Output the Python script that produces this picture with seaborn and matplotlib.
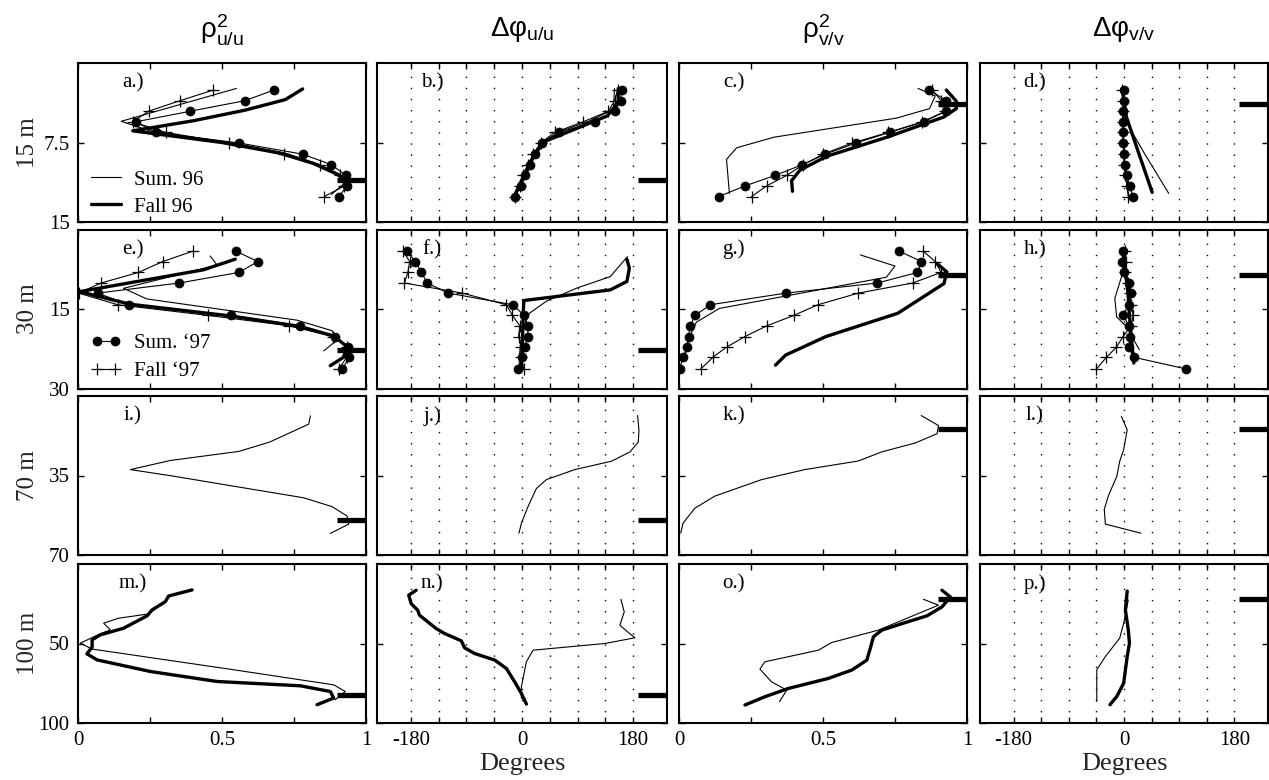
import matplotlib
matplotlib.use("Agg")
import matplotlib.pyplot as plt
import seaborn as sns

# ------------------------------------------------------------------ data
DEPTH_MAX = [15, 30, 70, 100]
DEPTH_MID = [7.5, 15, 35, 50]
DEPTH_TICKLABELS = [["7.5", "15"], ["15", "30"], ["35", "70"], ["50", "100"]]
ROW_LABELS = ["15 m", "30 m", "70 m", "100 m"]
COL_TITLES = [r"$\mathregular{ρ^{2}_{u/u}}$", r"$\mathregular{Δφ_{u/u}}$",
              r"$\mathregular{ρ^{2}_{v/v}}$", r"$\mathregular{Δφ_{v/v}}$"]
PANEL_LETTERS = ["a.)", "b.)", "c.)", "d.)", "e.)", "f.)", "g.)", "h.)",
                 "i.)", "j.)", "k.)", "l.)", "m.)", "n.)", "o.)", "p.)"]
U_BAR_DEPTH = [11.0, 22.7, 54.4, 82.6]
V_BAR_DEPTH = [3.9, 8.6, 14.6, 22.2]
COH_TICKS = [0, 0.25, 0.5, 0.75, 1]
COH_TICKLABELS = ["0", "", "0.5", "", "1"]
PHASE_TICKS = [-180, -135, -90, -45, 0, 45, 90, 135, 180]
PHASE_TICKLABELS = ["-180", "", "", "", "0", "", "", "", "180"]
PHASE_LIM = 235
LEGEND_96 = ["Sum. 96", "Fall 96"]
LEGEND_97 = ["Sum. \u201897", "Fall \u201897"]

# depth bins of the 1997 records
D15_97 = [2.55, 3.55, 4.55, 5.55, 6.55, 7.55, 8.6, 9.6, 10.6, 11.6, 12.6]
D30_97 = [4.05, 6.05, 8.1, 10.1, 12.0, 14.2, 16.2, 18.15, 20.2, 22.2, 24.1, 26.3]

# panel a (rho^2 u/u, 15 m)
A_S97 = [0.68, 0.58, 0.39, 0.20, 0.27, 0.56, 0.78, 0.88, 0.93, 0.935, 0.905]
A_F97 = [0.47, 0.355, 0.245, 0.19, 0.305, 0.525, 0.715, 0.84, 0.91, 0.925, 0.855]
A_S96_X = [0.55, 0.15, 0.26, 0.53, 0.72, 0.83, 0.91, 0.935, 0.88]
A_S96_D = [2.4, 5.5, 6.5, 7.5, 8.5, 9.5, 10.5, 11.1, 12.4]
A_F96_X = [0.78, 0.72, 0.58, 0.40, 0.19, 0.50, 0.70, 0.82, 0.90, 0.93]
A_F96_D = [2.45, 3.45, 4.45, 5.45, 6.4, 7.5, 8.5, 9.5, 10.5, 11.1]
# panel b (phase u/u, 15 m)
B_S97 = [161.5, 159.8, 151, 118.6, 59.6, 33.1, 20.6, 13.6, 4.4, -1, -11.4]
B_F97 = [155, 150, 140, 99, 53, 30, 18, 10, 2, -4, -12]
B_S96_X = [150, 148, 108, 60, 32, 20, 12, 4, -3, -10]
B_S96_D = [2.4, 4.4, 5.5, 6.5, 7.5, 8.5, 9.5, 10.5, 11.5, 12.5]
B_F96_X = [156, 156, 138, 37, 22, 12, 4, -4, -12]
B_F96_D = [2.4, 3.7, 5.0, 7.4, 8.5, 9.5, 10.5, 11.5, 12.5]
# panel c (rho^2 v/v, 15 m)
C_S97 = [0.869, 0.928, 0.928, 0.849, 0.731, 0.614, 0.508, 0.428, 0.334, 0.229, 0.138]
C_F97 = [0.88, 0.91, 0.925, 0.845, 0.727, 0.601, 0.50, 0.431, 0.374, 0.304, 0.252]
C_S96_X = [0.83, 0.89, 0.87, 0.755, 0.33, 0.20, 0.165, 0.175]
C_S96_D = [2.4, 3.1, 4.3, 5.2, 7.0, 8.0, 9.1, 12.3]
C_F96_X = [0.928, 0.963, 0.963, 0.919, 0.722, 0.513, 0.42, 0.391, 0.394]
C_F96_D = [2.55, 3.6, 4.3, 5.1, 7.0, 8.8, 10.1, 11.1, 12.1]
# panel d (phase v/v, 15 m)
D_S97 = [0, 0, -1.6, -1.6, -1.6, -1.6, 0, 1.1, 4.9, 9.2, 14.6]
D_F97 = [-3, -2, -2, -2, -2, -1, 0, 0, 2, 5, 7]
D_S96_X = [-3, 2, 33, 73]
D_S96_D = [2.4, 5.4, 8.5, 12.3]
D_F96_X = [-3, 4, 24, 46]
D_F96_D = [2.45, 5.1, 8.5, 12.2]
# panel e (rho^2 u/u, 30 m)
E_S97 = [0.547, 0.624, 0.559, 0.351, 0.068, 0.176, 0.532, 0.770, 0.894, 0.938, 0.942, 0.918]
E_F97 = [0.401, 0.294, 0.210, 0.080, 0.002, 0.138, 0.45, 0.731, 0.886, 0.934, 0.934, 0.905]
E_S96_X = [0.459, 0.483, 0.158, 0.239, 0.76, 0.882, 0.899, 0.853]
E_S96_D = [5.0, 6.7, 11.1, 13.1, 17.1, 19.1, 20.9, 22.9]
E_F96_X = [0.546, 0.436, 0.008, 0.054, 0.181, 0.529, 0.772, 0.888, 0.934, 0.922, 0.876]
E_F96_D = [5.6, 7.6, 11.7, 12.4, 14.1, 16.3, 18.3, 20.1, 22.1, 24.1, 25.7]
# panel f (phase u/u, 30 m)
F_S97 = [-186.8, -172.7, -163, -153.7, -119.6, -14.6, 3.2, 9.7, 9.3, 4.4, 0.6, -5.8]
F_F97 = [-193, -182, -185, -190.5, -96.8, -25.3, -15.6, -3.7, -5.4, -1, -1, 2.8]
F_S96_X = [171, 143, 90, 40, 12, 2, -3, -5]
F_S96_D = [5.1, 8.9, 11.0, 13.5, 15.8, 18.5, 22, 26]
F_F96_X = [170, 174, 170, 143, 3, 2, 1, -1]
F_F96_D = [5.6, 7.3, 9.8, 11.4, 13.4, 15.8, 20, 25.9]
# panel g (rho^2 v/v, 30 m)
G_S97 = [0.763, 0.842, 0.828, 0.689, 0.371, 0.109, 0.056, 0.039, 0.033, 0.028, 0.014, 0.002]
G_F97 = [0.847, 0.89, 0.91, 0.811, 0.623, 0.482, 0.399, 0.306, 0.229, 0.165, 0.118, 0.076]
G_S96_X = [0.63, 0.75, 0.72, 0.14, 0.06, 0.035, 0.02]
G_S96_D = [4.8, 6.9, 9.0, 14.9, 17.5, 20.5, 24.0]
G_F96_X = [0.895, 0.93, 0.92, 0.76, 0.51, 0.37, 0.335]
G_F96_D = [6.4, 8.0, 10.2, 15.8, 20.2, 23.7, 25.6]
# panel h (phase v/v, 30 m)
H_S97 = [-1.6, -3.2, 0, 8.1, 12, 8.1, -1.6, 8.1, 9.3, 8.1, 15.8, 101]
H_F97 = [1, 3, 2, 6, 10, 12, 14.6, 12, -1.6, -12.3, -28.6, -44.9]
H_S96_X = [0, -4, -15, -12, 4, 25]
H_S96_D = [5.4, 8.9, 13, 16.5, 18.3, 22.7]
H_F96_X = [-1, 3, 6.5, 10, 16]
H_F96_D = [5.1, 8.5, 12, 18, 25.2]
# panel i (rho^2 u/u, 70 m)
I_S96_X = [0.807, 0.801, 0.665, 0.558, 0.32, 0.182, 0.332, 0.54, 0.783, 0.882, 0.934, 0.94, 0.876]
I_S96_D = [8.75, 12.4, 20.3, 24.4, 28.4, 32.4, 35.3, 39.7, 44.8, 48.7, 52.8, 56.4, 60.5]
# panel j (phase u/u, 70 m)
J_S96_X = [187.4, 189.6, 188.4, 175, 145.2, 85.6, 39.6, 23.4, 9.7, -1, -4.9]
J_S96_D = [8.6, 15.2, 20.3, 24.6, 28.7, 32.4, 36.8, 40.7, 48.7, 56, 60.4]
# panel k (rho^2 v/v, 70 m)
K_S96_X = [0.841, 0.901, 0.896, 0.82, 0.704, 0.623, 0.437, 0.287, 0.124, 0.055, 0.014, 0.006]
K_S96_D = [8.6, 13, 16.6, 20.7, 24.6, 28.6, 32.4, 36.8, 44.1, 49.4, 56, 60.4]
# panel l (phase v/v, 70 m)
L_S96_X = [-4.2, 5.2, -0.5, -7, -11.7, -25.7, -32.2, -30.4, 27.6]
L_S96_D = [9, 14.9, 23.6, 28.7, 35.3, 44.1, 49.9, 56.4, 60.4]
# panel m (rho^2 u/u, 100 m)
M_F96_X = [0.396, 0.315, 0.303, 0.257, 0.24, 0.158, 0.077, 0.049, 0.049, 0.031, 0.066,
           0.251, 0.483, 0.772, 0.876, 0.888, 0.83]
M_F96_D = [16.3, 20.1, 23.7, 28.9, 32.6, 40.4, 44.6, 47.7, 52.3, 56.5, 60.3,
           67.6, 73.9, 76.6, 80.2, 84.3, 88.5]
M_S96_X = [0.303, 0.245, 0.141, 0.089, 0.112, 0.077, 0.008, 0.049, 0.54, 0.888, 0.928, 0.893]
M_S96_D = [23.7, 31.4, 34.1, 37.2, 41.4, 43.9, 49.8, 53.5, 66.5, 76, 80.2, 85.4]
# panel n (phase u/u, 100 m)
N_F96_X = [-171.5, -183.6, -179.7, -168.9, -166.2, -139.1, -125.6, -98.4, -93.1, -76.8,
           -44.3, -25.3, -11.9, -1, 7.1]
N_F96_D = [16.5, 19.6, 24.9, 29.1, 32.2, 40.6, 43.7, 48.3, 52.7, 56.3,
           60.4, 65.7, 74.1, 81.4, 88.1]
N_S96_X = [160.3, 165.7, 158.7, 171.2, 183.1, 134.3, 17.9, 7.1, -1, -1]
N_S96_D = [22.2, 30.1, 38.5, 42.7, 46.4, 50, 54.2, 61.5, 77.2, 84.5]
# panel o (rho^2 v/v, 100 m)
O_F96_X = [0.913, 0.942, 0.913, 0.861, 0.774, 0.704, 0.675, 0.664, 0.652, 0.6,
           0.518, 0.379, 0.298, 0.229]
O_F96_D = [16.5, 20.7, 27, 32.6, 37.5, 41.6, 45.8, 53.2, 60.5, 66.7,
           72, 78.3, 83.5, 88.7]
O_S96_X = [0.849, 0.901, 0.692, 0.53, 0.484, 0.298, 0.281, 0.321, 0.374, 0.349]
O_S96_D = [22.2, 25.9, 41.6, 49.4, 54.2, 61.5, 66.1, 74.1, 79.3, 86.6]
# panel p (phase v/v, 100 m)
P_F96_X = [5.2, 2.3, 7, 8.9, 5.2, -0.5, -11.7, -22.9]
P_F96_D = [17, 28.9, 41.4, 49.8, 58.2, 74.9, 83.3, 88.5]
P_S96_X = [7, -0.5, -7, -30.4, -44.4, -44.4]
P_S96_D = [22.6, 37.2, 46.6, 58.2, 66.5, 86.4]

# ------------------------------------------------------------------ styles
INK = "#000000"
STYLE = {
    "s96": dict(lw=0.8),
    "f96": dict(lw=2.4),
    "s97": dict(lw=0.8, marker="o", markersize=6.5, markerfacecolor=INK,
                markeredgecolor=INK, markeredgewidth=0.5),
    "f97": dict(lw=0.8, marker="+", markersize=8.5, markeredgecolor=INK,
                markeredgewidth=0.9),
}

PANELS = [
    [("s96", A_S96_X, A_S96_D), ("f96", A_F96_X, A_F96_D), ("s97", A_S97, D15_97), ("f97", A_F97, D15_97)],
    [("s96", B_S96_X, B_S96_D), ("f96", B_F96_X, B_F96_D), ("s97", B_S97, D15_97), ("f97", B_F97, D15_97)],
    [("s96", C_S96_X, C_S96_D), ("f96", C_F96_X, C_F96_D), ("s97", C_S97, D15_97), ("f97", C_F97, D15_97)],
    [("s96", D_S96_X, D_S96_D), ("f96", D_F96_X, D_F96_D), ("s97", D_S97, D15_97), ("f97", D_F97, D15_97)],
    [("s96", E_S96_X, E_S96_D), ("f96", E_F96_X, E_F96_D), ("s97", E_S97, D30_97), ("f97", E_F97, D30_97)],
    [("s96", F_S96_X, F_S96_D), ("f96", F_F96_X, F_F96_D), ("s97", F_S97, D30_97), ("f97", F_F97, D30_97)],
    [("s96", G_S96_X, G_S96_D), ("f96", G_F96_X, G_F96_D), ("s97", G_S97, D30_97), ("f97", G_F97, D30_97)],
    [("s96", H_S96_X, H_S96_D), ("f96", H_F96_X, H_F96_D), ("s97", H_S97, D30_97), ("f97", H_F97, D30_97)],
    [("s96", I_S96_X, I_S96_D)],
    [("s96", J_S96_X, J_S96_D)],
    [("s96", K_S96_X, K_S96_D)],
    [("s96", L_S96_X, L_S96_D)],
    [("s96", M_S96_X, M_S96_D), ("f96", M_F96_X, M_F96_D)],
    [("s96", N_S96_X, N_S96_D), ("f96", N_F96_X, N_F96_D)],
    [("s96", O_S96_X, O_S96_D), ("f96", O_F96_X, O_F96_D)],
    [("s96", P_S96_X, P_S96_D), ("f96", P_F96_X, P_F96_D)],
]

# ------------------------------------------------------------------ figure
sns.set_theme(style="white", color_codes=False)
plt.rcParams["font.family"] = ["Liberation Serif", "DejaVu Serif"]
plt.rcParams["axes.edgecolor"] = INK
plt.rcParams["axes.linewidth"] = 1.5
plt.rcParams["text.color"] = INK
plt.rcParams["xtick.color"] = INK
plt.rcParams["ytick.color"] = INK

W, H = 1269, 780
fig = plt.figure(figsize=(W / 100, H / 100), dpi=100)

COL_LEFT = [78, 377, 679, 980]
COL_WIDTH = [288, 290, 288, 288]
ROW_TOP = [63, 229.5, 396, 564]
ROW_H = 159

TICK_FS = 15

for r in range(4):
    for c in range(4):
        idx = r * 4 + c
        ax = fig.add_axes([COL_LEFT[c] / W, 1 - (ROW_TOP[r] + ROW_H) / H,
                           COL_WIDTH[c] / W, ROW_H / H])
        is_phase = c in (1, 3)
        for key, xs, ds in PANELS[idx]:
            sns.lineplot(x=xs, y=ds, sort=False, estimator=None, color=INK,
                         ax=ax, legend=False, **STYLE[key])
        # reference-depth bar on the right edge
        bar_d = U_BAR_DEPTH[r] if c < 2 else V_BAR_DEPTH[r]
        if is_phase:
            xlo, xhi = -PHASE_LIM, PHASE_LIM
        else:
            xlo, xhi = 0.0, 1.0
        ax.plot([xlo + 0.9 * (xhi - xlo), xhi], [bar_d, bar_d], color=INK,
                lw=3.8, solid_capstyle="butt", clip_on=False, zorder=5)
        ax.set_xlim(xlo, xhi)
        ax.set_ylim(DEPTH_MAX[r], 0)
        ax.set_yticks([DEPTH_MID[r], DEPTH_MAX[r]])
        if c == 0:
            ax.set_yticklabels(DEPTH_TICKLABELS[r], fontsize=TICK_FS)
            ax.set_ylabel(ROW_LABELS[r], fontsize=18)
            ax.yaxis.set_label_coords(-0.135, 0.5)
        else:
            ax.set_yticklabels([])
            ax.set_ylabel("")
        if is_phase:
            ax.set_xticks(PHASE_TICKS)
            ax.xaxis.grid(True, color=INK, lw=1.0, linestyle=(0, (1, 7)))
            ax.yaxis.grid(False)
            labels = PHASE_TICKLABELS
        else:
            ax.set_xticks(COH_TICKS)
            ax.grid(False)
            labels = COH_TICKLABELS
        if r == 3:
            ax.set_xticklabels(labels, fontsize=TICK_FS)
            if is_phase:
                ax.set_xlabel("Degrees", fontsize=19)
                ax.xaxis.set_label_coords(0.5, -0.19)
            else:
                ax.set_xlabel("")
        else:
            ax.set_xticklabels([])
            ax.set_xlabel("")
        ax.tick_params(direction="in", length=4, width=1, top=True, right=True,
                       bottom=True, left=True, colors=INK, pad=6)
        for s in ax.spines.values():
            s.set_color(INK)
            s.set_linewidth(1.5)
        ax.set_axisbelow(True)
        ax.text(0.19, 0.875, PANEL_LETTERS[idx], transform=ax.transAxes,
                ha="center", va="center", fontsize=15, color=INK)
        if idx == 0:
            h = ax.lines[:2]
            ax.legend(h, LEGEND_96, loc="center left", bbox_to_anchor=(0.045, 0.18),
                      frameon=False, fontsize=15, handlelength=1.45,
                      handletextpad=0.6, labelspacing=0.35, borderpad=0,
                      borderaxespad=0)
        if idx == 4:
            h = ax.lines[2:4]
            ax.legend(h, LEGEND_97, loc="center left", bbox_to_anchor=(0.045, 0.195),
                      frameon=False, fontsize=15, handlelength=1.45,
                      handletextpad=0.6, labelspacing=0.4, borderpad=0,
                      borderaxespad=0, numpoints=2)

for c in range(4):
    fig.text((COL_LEFT[c] + COL_WIDTH[c] / 2) / W, 1 - 30 / H, COL_TITLES[c],
             ha="center", va="center", fontsize=20, family="Liberation Sans",
             color=INK)

fig.savefig("out.png", dpi=100)
